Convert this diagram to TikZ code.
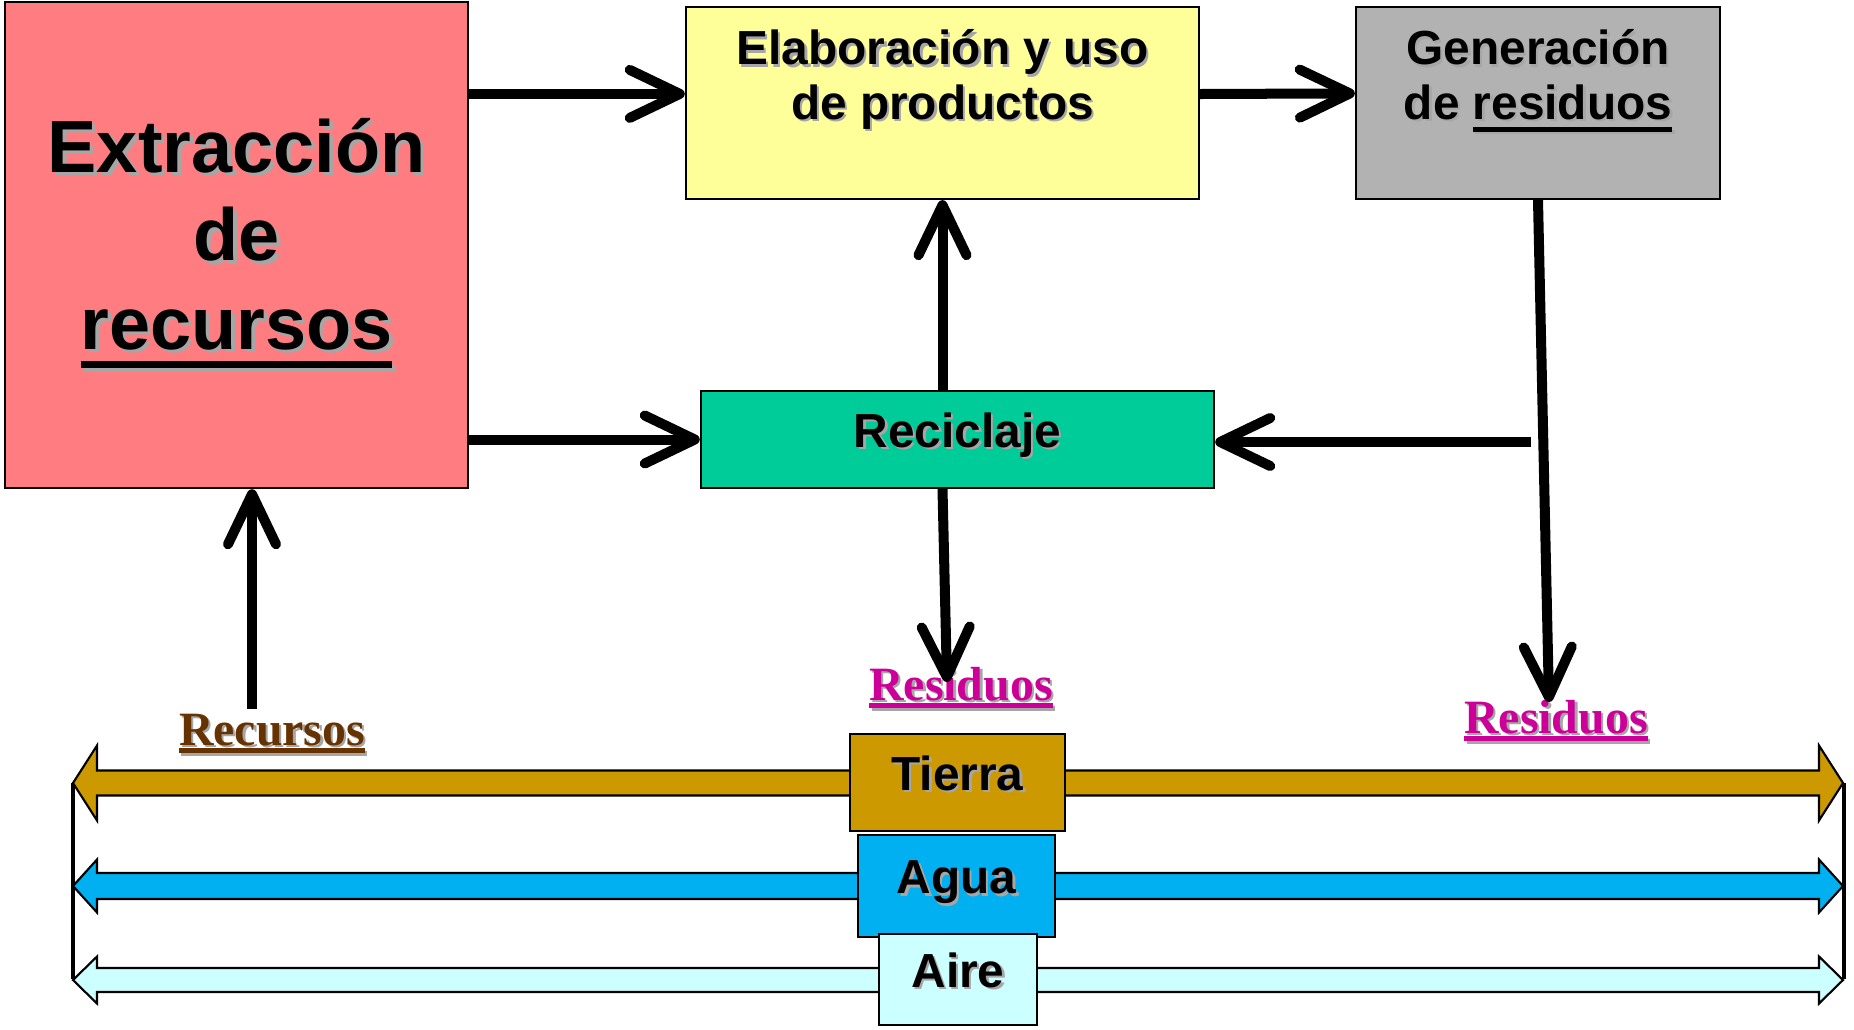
\documentclass[tikz,border=0pt]{standalone}
\usepackage{fontspec}
\setmainfont{Liberation Sans}
\newfontfamily\timesfont{Liberation Serif}
\usetikzlibrary{arrows.meta}

\definecolor{rojo}{HTML}{FF7C80}
\definecolor{amarillo}{HTML}{FFFF99}
\definecolor{gris}{HTML}{B2B2B2}
\definecolor{verde}{HTML}{00CC99}
\definecolor{ocre}{HTML}{CC9900}
\definecolor{celeste}{HTML}{00B0F0}
\definecolor{cielo}{HTML}{CCFFFF}
\definecolor{marron}{HTML}{663300}
\definecolor{fucsia}{HTML}{CC0099}

% text with a soft shadow, underline, text pinned to the top of a box
\newcommand{\shd}[1]{\leavevmode\rlap{\kern0.05em\raisebox{-0.05em}{\textcolor{black!35}{#1}}}#1}
\newcommand{\ulin}[2][0.26em]{\setbox0=\hbox{#2}\rlap{\rule[-#1]{\wd0}{0.1em}}\box0}
\newcommand{\toptext}[2]{\parbox[c][1.92cm][t]{#1}{\centering\rule{0pt}{16.5pt}#2}}

\begin{document}
\begin{tikzpicture}[
   x=0.01cm, y=-0.01cm,
   box/.style={rectangle, draw, line width=0.6pt, inner sep=0pt, font=\fontsize{13.6}{15.5}\selectfont\bfseries},
   mid/.style={box, text height=0.75em, text depth=0.3em},
   arrow/.style={-{Straight Barb[length=5mm,width=4.8mm,round]}, line width=1mm},
   band/.style={draw, line width=0.6pt},
   tag/.style={anchor=base, font=\timesfont\fontsize{13.6}{15.5}\selectfont\bfseries}
]
\useasboundingbox (0,0) rectangle (1854,1030);

% Main boxes
\node[box, fill=rojo, minimum width=4.63cm, minimum height=4.86cm, align=center,
      font=\fontsize{21}{25.2}\selectfont\bfseries] (extr) at (236.5,245)
      {\shd{Extracción}\\\shd{de}\\\shd{\ulin{recursos}}};
\node[box, fill=amarillo, minimum width=5.13cm, minimum height=1.92cm] (elab) at (942.5,103)
      {\toptext{5cm}{\shd{Elaboración y uso}\\\shd{de productos}}};
\node[box, fill=gris, minimum width=3.64cm, minimum height=1.92cm] (gen) at (1538,103)
      {\toptext{3.5cm}{\shd{Generación}\\\shd{de \ulin{residuos}}}};
\node[mid, fill=verde, minimum width=5.13cm, minimum height=0.97cm] (recic) at (957.5,439.5) {\shd{Reciclaje}};

% Tierra, agua, aire
\draw[line width=1.4pt] (73,783) -- (73,979);
\draw[line width=1.4pt] (1844,783) -- (1844,979);
\foreach \yc/\bh/\hh/\col in {783/12.5/37.5/ocre, 886/13/26.5/celeste, 980/12/23.5/cielo}
  \filldraw[band, fill=\col] (73,\yc) -- (97,\yc-\hh) -- (97,\yc-\bh) -- (1819,\yc-\bh)
    -- (1819,\yc-\hh) -- (1843,\yc) -- (1819,\yc+\hh) -- (1819,\yc+\bh) -- (97,\yc+\bh)
    -- (97,\yc+\hh) -- cycle;
\node[mid, fill=ocre, minimum width=2.15cm, minimum height=0.97cm] (tierra) at (957.5,782.5) {\shd{Tierra}};
\node[mid, fill=celeste, minimum width=1.97cm, minimum height=1.02cm] (agua) at (956.5,886) {\shd{Agua}};
\node[mid, fill=cielo, minimum width=1.58cm, minimum height=0.91cm] (aire) at (958,979.5) {\shd{Aire}};

% Labels
\node[tag, text=marron] (recursos) at (272,745) {\shd{\ulin[0.17em]{Recursos}}};
\node[tag, text=fucsia] (resmid) at (961,700) {\shd{\ulin[0.17em]{Residuos}}};
\node[tag, text=fucsia] (resder) at (1556,733) {\shd{\ulin[0.17em]{Residuos}}};

\coordinate (src) at (252,709);
\coordinate (tipmid) at (947,682);
\coordinate (tipder) at (1549,702);
\coordinate (branch) at (1531,442);

% Flows
\draw[arrow] (extr.33.6) -- (extr.33.6 -| elab.west);
\draw[arrow] (extr.east |- recic.west) -- (recic.west);
\draw[arrow] (elab.2.7) -- (gen.177.5);
\draw[arrow] (recic.north -| elab.south) -- (elab.south);
\draw[arrow] (recic.south -| elab.south) -- (tipmid);
\draw[arrow] (gen.south) -- (tipder);
\draw[arrow] (branch) -- (branch -| recic.east);
\draw[arrow] (src) -- (src |- extr.south);

\end{tikzpicture}
\end{document}
